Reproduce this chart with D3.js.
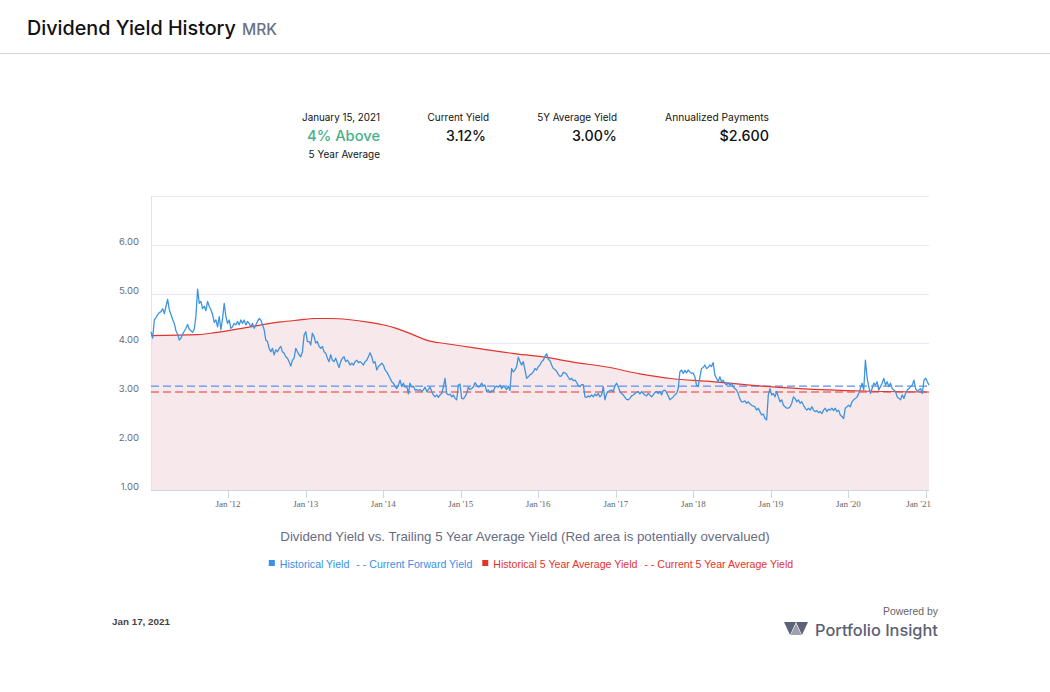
<!DOCTYPE html>
<html><head><meta charset="utf-8">
<script src="https://cdn.jsdelivr.net/npm/d3@7"></script>
<style>
body{margin:0;background:#fff;}
svg{display:block;}
</style></head><body>
<svg id="chart" width="1050" height="692"></svg>
<script>
// ---------------- DATA ----------------
const titleText = "Dividend Yield History";
const ticker = "MRK";
const statLabels = ["January 15, 2021", "Current Yield", "5Y Average Yield", "Annualized Payments"];
const statValues = ["4% Above", "3.12%", "3.00%", "$2.600"];
const statNote = "5 Year Average";
const reportDate = "Jan 17, 2021";
const subtitle = "Dividend Yield vs. Trailing 5 Year Average Yield (Red area is potentially overvalued)";
const legendItems = ["Historical Yield", "- - Current Forward Yield", "Historical 5 Year Average Yield", "- - Current 5 Year Average Yield"];

const currentForwardYield = 3.12;
const current5YAverage = 3.00;

const yTickValues = [1, 2, 3, 4, 5, 6];
const xTickYears = [2012, 2013, 2014, 2015, 2016, 2017, 2018, 2019, 2020, 2021];
const xTickLabels = ["Jan '12", "Jan '13", "Jan '14", "Jan '15", "Jan '16", "Jan '17", "Jan '18", "Jan '19", "Jan '20", "Jan '21"];
const xDomain = ["2011-01-03", "2021-01-15"];

// Historical yield, in four evenly-sampled stretches (first date, last date)
const yieldRange1 = ["2011-01-03", "2013-07-16"];
const yield1 = [
4.23,4.10,4.47,4.52,4.58,4.62,4.64,4.70,4.60,4.75,
4.89,4.68,4.58,4.48,4.40,4.25,4.18,4.06,4.10,4.18,
4.24,4.30,4.38,4.28,4.25,4.22,4.28,4.55,5.10,4.81,
4.85,4.70,4.75,4.66,4.85,4.75,4.68,4.58,4.42,4.47,
4.33,4.54,4.27,4.50,4.81,4.54,4.40,4.47,4.30,4.33,
4.40,4.37,4.44,4.37,4.47,4.40,4.47,4.37,4.44,4.40,
4.33,4.40,4.30,4.37,4.44,4.50,4.47,4.37,4.27,4.06,
4.03,3.89,3.82,3.89,3.76,3.86,3.82,3.89,3.93,3.82,
3.79,3.72,3.69,3.62,3.53,3.65,3.69,3.89,3.82,3.76,
3.72,3.82,4.16,4.23,4.03,4.03,3.96,4.20,4.13,4.00,
4.03,3.93,3.89,3.93,3.82,3.79,3.69,3.62,3.76,3.65,
3.62,3.69,3.59,3.50,3.62,3.69,3.72,3.62,3.65];
const yieldRange2 = ["2013-07-21", "2016-01-25"];
const yield2 = [
3.62,3.55,3.59,3.55,3.62,3.65,3.60,3.62,3.59,3.55,
3.62,3.65,3.72,3.80,3.72,3.59,3.62,3.45,3.52,3.55,
3.59,3.55,3.45,3.41,3.35,3.28,3.21,3.18,3.12,3.07,
3.14,3.24,3.11,3.18,3.10,3.12,2.96,3.18,3.10,3.12,
3.04,3.05,3.03,3.05,3.01,3.04,3.10,3.01,3.05,3.10,
3.01,2.94,2.90,2.94,2.89,2.94,2.97,3.10,3.28,2.97,
2.94,2.96,2.90,2.94,2.87,2.84,3.14,3.16,2.87,2.86,
2.90,2.97,3.10,3.05,3.07,3.10,3.19,3.14,3.10,3.12,
3.18,3.12,3.14,3.01,3.04,2.99,3.03,3.01,3.10,3.12,
3.10,3.14,3.07,3.12,3.10,3.05,3.12,3.03,3.48,3.41,
3.45,3.52,3.71,3.62,3.55,3.62,3.45,3.28,3.31,3.35,
3.37,3.41,3.48,3.45,3.52,3.55,3.62,3.65];
const yieldRange3 = ["2016-02-02", "2018-07-31"];
const yield3 = [
3.73,3.78,3.67,3.64,3.55,3.48,3.46,3.42,3.36,3.32,
3.33,3.40,3.39,3.36,3.30,3.25,3.28,3.23,3.24,3.20,
3.13,3.11,3.15,3.15,2.90,2.89,2.92,2.90,2.94,2.90,
2.96,2.92,2.97,2.90,2.94,3.11,2.84,2.97,3.01,3.03,
3.04,3.01,3.12,3.18,3.11,3.01,2.97,2.94,2.89,2.85,
2.84,2.87,2.92,2.94,2.97,2.99,3.01,2.96,3.01,2.97,
2.94,2.92,2.97,2.94,2.90,2.94,2.99,3.01,2.97,3.01,
2.94,3.03,3.04,2.99,2.92,2.84,2.87,2.90,2.94,2.97,
3.07,3.41,3.45,3.38,3.44,3.39,3.45,3.41,3.38,3.39,
3.31,3.14,3.11,3.30,3.48,3.50,3.55,3.48,3.50,3.55,
3.52,3.60,3.35,3.28,3.21,3.31,3.21,3.24,3.18,3.14,
3.19,3.14,3.18,3.11,3.07,3.04,2.97];
const yieldRange4 = ["2018-08-08", "2021-01-15"];
const yield4 = [
2.86,2.80,2.80,2.82,2.77,2.80,2.76,2.73,2.71,2.70,
2.63,2.67,2.60,2.53,2.55,2.46,2.43,2.94,3.07,2.94,
2.97,2.90,3.01,2.90,2.80,2.84,2.73,2.70,2.67,2.67,
2.70,2.77,2.90,2.87,2.80,2.84,2.77,2.80,2.73,2.67,
2.63,2.67,2.63,2.70,2.63,2.60,2.62,2.58,2.60,2.56,
2.63,2.67,2.60,2.65,2.63,2.67,2.62,2.67,2.60,2.63,
2.53,2.50,2.46,2.67,2.70,2.73,2.70,2.80,2.84,2.87,
2.90,2.97,3.07,3.18,3.04,3.65,3.30,3.11,2.97,3.07,
3.18,3.14,3.21,3.04,3.11,3.18,3.28,3.14,3.21,3.11,
3.18,3.07,3.04,3.01,2.90,2.87,2.84,2.94,2.87,2.97,
3.04,3.07,3.11,3.14,3.24,3.07,3.01,3.04,3.07,2.97,
3.24,3.28,3.21,3.14];

// Trailing 5 year average yield
const avgDates = ["2011-01-03","2011-08-12","2011-10-31","2012-04-03","2012-09-05","2012-12-04","2013-02-13","2013-04-29","2013-07-19","2013-10-29","2014-02-24","2014-05-15","2014-07-30","2014-10-19","2015-03-23","2015-08-31","2016-02-02","2016-06-13","2016-11-20","2017-04-24","2017-09-27","2018-03-06","2018-08-08","2018-11-20","2019-05-18","2020-03-19","2021-01-15"];
const avgValues = [4.15,4.17,4.21,4.32,4.43,4.47,4.50,4.50,4.48,4.42,4.31,4.18,4.05,3.99,3.89,3.79,3.71,3.61,3.51,3.37,3.27,3.22,3.16,3.12,3.07,3.02,3.00];

// ---------------- BUILD ----------------
const parse = d3.timeParse("%Y-%m-%d");
function spread(range, vals) {
  const a = parse(range[0]).getTime(), b = parse(range[1]).getTime();
  return vals.map((v, i) => ({ date: new Date(a + (b - a) * i / (vals.length - 1)), value: v }));
}
const yieldData = [].concat(
  spread(yieldRange1, yield1), spread(yieldRange2, yield2),
  spread(yieldRange3, yield3), spread(yieldRange4, yield4));
const avgData = avgDates.map((d, i) => ({ date: parse(d), value: avgValues[i] }));

const svg = d3.select("#chart");
const W = 1050;
const sansGeo = "Inter, 'Noto Sans', sans-serif";
const sans = "'Liberation Sans', Arial, sans-serif";

function fit(sel, w) {
  const fs = parseFloat(sel.attr("font-size"));
  const len = sel.node().getComputedTextLength();
  sel.attr("font-size", (fs * w / len).toFixed(2));
  return sel;
}

// Header
const t = svg.append("text").attr("x", 27).attr("y", 35).attr("font-family", sansGeo)
  .attr("font-weight", 500).attr("font-size", 20).attr("fill", "#111").text(titleText);
fit(t, 209);
svg.append("text").attr("x", 242).attr("y", 35).attr("font-family", sansGeo)
  .attr("font-weight", 500).attr("font-size", 15).attr("fill", "#6c7185").text(ticker)
  .call(s => fit(s, 35));
svg.append("line").attr("x1", 0).attr("x2", W).attr("y1", 53.5).attr("y2", 53.5)
  .attr("stroke", "#cfd4dc").attr("stroke-width", 1);

// Stats block
const statRight = [380, 489, 617, 769];
const valRight = [380, 486, 617, 769];
const labelW = [78, 61.5, 80, 104];
const valueW = [73, 40, 45, 49.5];
statLabels.forEach((s, i) => {
  svg.append("text").attr("x", statRight[i]).attr("y", 121).attr("text-anchor", "end")
    .attr("font-family", sansGeo).attr("font-size", 10).attr("fill", "#111").text(s)
    .call(sel => fit(sel, labelW[i]));
  svg.append("text").attr("x", valRight[i]).attr("y", 141).attr("text-anchor", "end")
    .attr("font-family", sansGeo).attr("font-weight", 500).attr("font-size", 15)
    .attr("fill", i === 0 ? "#45b08a" : "#111").text(statValues[i])
    .call(sel => fit(sel, valueW[i]));
});
svg.append("text").attr("x", 380).attr("y", 158).attr("text-anchor", "end")
  .attr("font-family", sansGeo).attr("font-size", 10).attr("fill", "#111").text(statNote)
  .call(sel => fit(sel, 71.5));

// Chart
const L = 151, R = 929, T = 196, B = 490;
const x = d3.scaleTime().domain(xDomain.map(parse)).range([L, R]);
const y = d3.scaleLinear().domain([1, 7]).range([B, T]);

const g = svg.append("g");
// gridlines
g.selectAll(".grid").data(d3.range(1, 8)).enter().append("line")
  .attr("x1", L).attr("x2", R).attr("y1", d => y(d) + 0.5).attr("y2", d => y(d) + 0.5)
  .attr("stroke", "#e6e9f2").attr("stroke-width", 1);

// area under 5Y average
const area = d3.area().x(d => x(d.date)).y0(y(1)).y1(d => y(d.value)).curve(d3.curveMonotoneX);
g.append("path").datum(avgData).attr("d", area).attr("fill", "#f7e8ec");

// left axis line
g.append("line").attr("x1", L + 0.5).attr("x2", L + 0.5).attr("y1", T).attr("y2", B)
  .attr("stroke", "#dfe4ef").attr("stroke-width", 1);

// y labels
g.selectAll(".ylab").data(yTickValues).enter().append("text")
  .attr("x", 139).attr("y", d => y(d)).attr("text-anchor", "end")
  .attr("font-family", sansGeo).attr("font-size", 9.5).attr("fill", "#666c80")
  .text(d => d.toFixed(2));

// x axis
g.append("line").attr("x1", L).attr("x2", R).attr("y1", B + 0.5).attr("y2", B + 0.5)
  .attr("stroke", "#ccd6eb").attr("stroke-width", 1);
const xTicks = xTickYears.map((yr, i) => ({ date: new Date(yr, 0, 1), label: xTickLabels[i] }));
g.selectAll(".xt").data(xTicks).enter().append("line")
  .attr("x1", d => Math.round(x(d.date)) + 0.5).attr("x2", d => Math.round(x(d.date)) + 0.5)
  .attr("y1", B).attr("y2", B + 8).attr("stroke", "#ccd6eb");
g.selectAll(".xl").data(xTicks).enter().append("text")
  .attr("x", d => x(d.date)).attr("y", 507).attr("text-anchor", "middle")
  .attr("font-family", "'Liberation Serif', 'Times New Roman', serif").attr("font-size", 9)
  .attr("fill", "#666").text(d => d.label)
  .each(function () {
    const bb = this.getBBox();
    if (bb.x + bb.width > R + 2) d3.select(this).attr("x", +d3.select(this).attr("x") - (bb.x + bb.width - R - 2));
  });

// current reference dashed lines
g.append("line").attr("x1", L).attr("x2", R).attr("y1", y(currentForwardYield)).attr("y2", y(currentForwardYield))
  .attr("stroke", "#5b8fef").attr("stroke-width", 1.2).attr("stroke-dasharray", "8,4");
g.append("line").attr("x1", L).attr("x2", R).attr("y1", y(current5YAverage)).attr("y2", y(current5YAverage))
  .attr("stroke", "#e8332a").attr("stroke-width", 1.2).attr("stroke-dasharray", "8,4");

// 5Y average line
const avgLine = d3.line().x(d => x(d.date)).y(d => y(d.value)).curve(d3.curveMonotoneX);
g.append("path").datum(avgData).attr("d", avgLine).attr("fill", "none")
  .attr("stroke", "#e2342c").attr("stroke-width", 1.2);

// yield line
const yLine = d3.line().x(d => x(d.date)).y(d => y(d.value));
g.append("path").datum(yieldData).attr("d", yLine).attr("fill", "none")
  .attr("stroke", "#3e93e0").attr("stroke-width", 1.3).attr("stroke-linejoin", "round");

// subtitle
svg.append("text").attr("x", 525).attr("y", 541).attr("text-anchor", "middle")
  .attr("font-family", sans).attr("font-size", 14).attr("fill", "#676c82").text(subtitle)
  .call(s => fit(s, 490));

// legend
const legColors = ["#3a8fe6", "#3a8fe6", "#e5332a", "#e5332a"];
const legSquare = [true, false, true, false];
const legG = svg.append("g");
let cx = 0;
legendItems.forEach((txt, i) => {
  if (legSquare[i]) {
    legG.append("rect").attr("x", cx).attr("y", 560).attr("width", 6).attr("height", 6).attr("fill", legColors[i]);
    cx += 11;
  }
  const tx = legG.append("text").attr("x", cx).attr("y", 567.5).attr("font-family", sans)
    .attr("font-size", 10.6).attr("fill", legColors[i]).text(txt);
  cx += tx.node().getComputedTextLength() + (i === 1 ? 10 : 7);
});
const legW = cx - 7;
legG.attr("transform", `translate(${268 - 0},0)`);
legG.attr("transform", `translate(${531 - legW / 2},0)`);

// footer
svg.append("text").attr("x", 112).attr("y", 625).attr("font-family", sans).attr("font-weight", 700)
  .attr("font-size", 10).attr("fill", "#444").text(reportDate).call(s => fit(s, 58));
svg.append("text").attr("x", 938).attr("y", 615).attr("text-anchor", "end").attr("font-family", sans)
  .attr("font-size", 10).attr("fill", "#666").text("Powered by").call(s => fit(s, 55));
const logo = svg.append("g").attr("fill", "#5d6275");
logo.append("path").attr("d", "M784,622 L796,622 L790,635 Z");
logo.append("path").attr("d", "M796,622 L808,622 L802,635 Z");
logo.append("path").attr("d", "M790.5,635 L796,623.5 L801.5,635 Z").attr("fill", "#9ea2b0");
svg.append("text").attr("x", 815).attr("y", 636).attr("font-family", sansGeo).attr("font-weight", 500)
  .attr("font-size", 17).attr("fill", "#5b6072").text("Portfolio Insight").call(s => fit(s, 123));
</script>
</body></html>
